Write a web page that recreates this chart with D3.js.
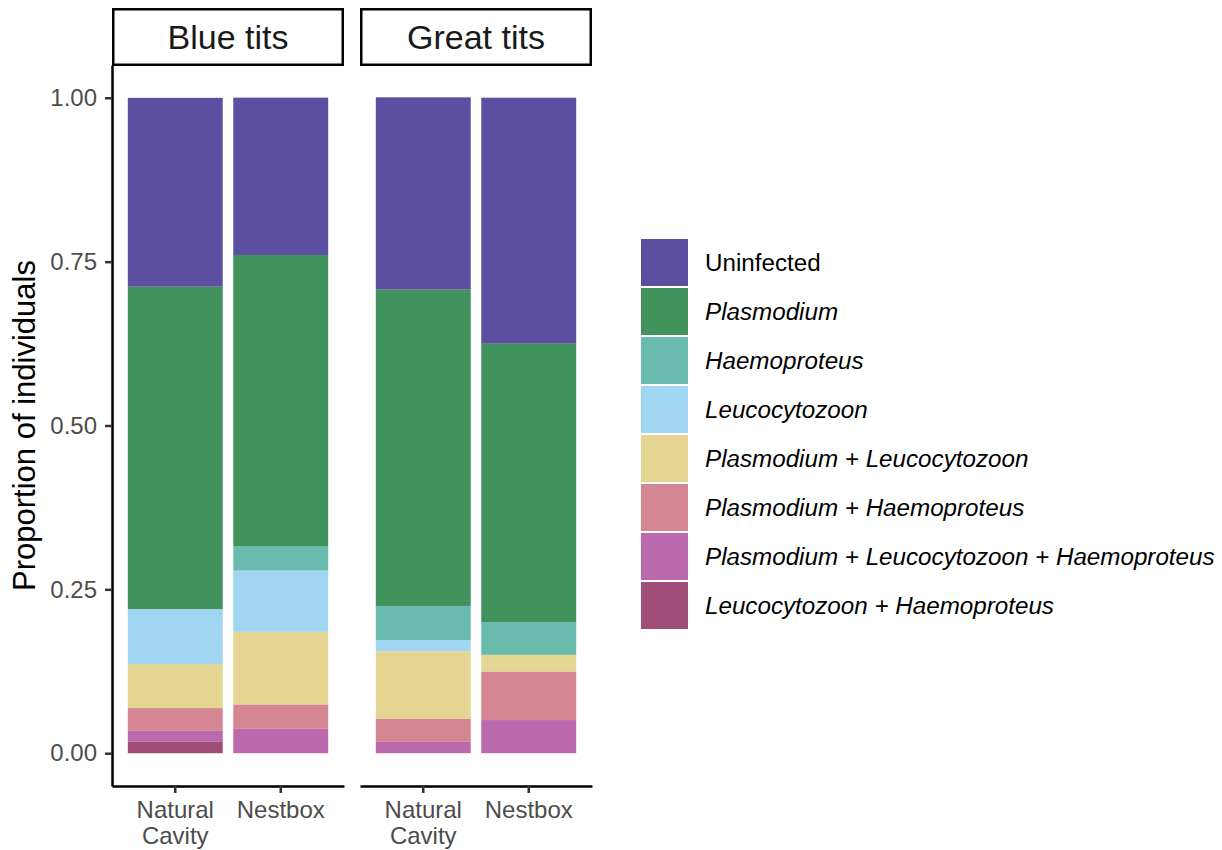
<!DOCTYPE html>
<html>
<head>
<meta charset="utf-8">
<script src="https://cdn.jsdelivr.net/npm/d3@7"></script>
<style>
  html, body { margin: 0; padding: 0; background: #fff; }
  svg { display: block; font-family: "Liberation Sans", Arial, Helvetica, sans-serif; }
</style>
</head>
<body>
<svg id="chart" width="1222" height="850"></svg>
<script>
// Facets, bar categories and infection classes
const species = ["Blue tits", "Great tits"];
const habitats = ["Natural Cavity", "Nestbox"];
const infections = [
  "Uninfected",
  "Plasmodium",
  "Haemoproteus",
  "Leucocytozoon",
  "Plasmodium + Leucocytozoon",
  "Plasmodium + Haemoproteus",
  "Plasmodium + Leucocytozoon + Haemoproteus",
  "Leucocytozoon + Haemoproteus"
];
const colours = ["#332288", "#117733", "#44AA99", "#88CCEE", "#DDCC77", "#CC6677", "#AA4499", "#882255"];

// Proportion of individuals per group, in the order:
// Blue tits / Natural Cavity, Blue tits / Nestbox, Great tits / Natural Cavity, Great tits / Nestbox
const uninfected      = [0.288, 0.240, 0.293, 0.375];
const plasmodium      = [0.492, 0.4445, 0.483, 0.425];
const haemoproteus    = [0.000, 0.037, 0.052, 0.050];
const leucocytozoon   = [0.084, 0.0934, 0.0172, 0.000];
const plasLeuco       = [0.067, 0.111, 0.103, 0.0255];
const plasHaemo       = [0.0346, 0.037, 0.035, 0.074];
const plasLeucoHaemo  = [0.0168, 0.0373, 0.0175, 0.0506];
const leucoHaemo      = [0.0175, 0.000, 0.000, 0.000];

const yTicks = [0, 0.25, 0.5, 0.75, 1];

const seriesValues = [uninfected, plasmodium, haemoproteus, leucocytozoon,
                      plasLeuco, plasHaemo, plasLeucoHaemo, leucoHaemo];

// Long table: one row per bar
const rows = [];
species.forEach((sp, si) => {
  habitats.forEach((hb, hi) => {
    const idx = si * habitats.length + hi;
    const row = { species: sp, habitat: hb };
    infections.forEach((inf, k) => { row[inf] = seriesValues[k][idx]; });
    rows.push(row);
  });
});

// Stack from the last class (bottom) to "Uninfected" (top)
const stackKeys = infections.slice().reverse();
const stacked = d3.stack().keys(stackKeys)(rows);

const colour = d3.scaleOrdinal().domain(infections).range(colours);

const svg = d3.select("#chart");
const fontAxis = 24;

// Panel geometry
const panelTop = 65, panelBottom = 786;
const panelW = 232, panelGap = 16, panelLeft = 112;
const stripTop = 8;

const y = d3.scaleLinear().domain([-0.05, 1.05]).range([panelBottom, panelTop]);

species.forEach((sp, si) => {
  const px = panelLeft + si * (panelW + panelGap);
  const g = svg.append("g").attr("transform", `translate(${px},0)`);

  const x = d3.scaleBand().domain(habitats).range([0, panelW])
    .paddingInner(0.1).paddingOuter(0.15);

  // Stacked bars
  stacked.forEach(layer => {
    g.selectAll(null)
      .data(layer.filter(d => d.data.species === sp))
      .join("rect")
      .attr("x", d => x(d.data.habitat))
      .attr("width", x.bandwidth())
      .attr("y", d => y(d[1]))
      .attr("height", d => Math.max(0, y(d[0]) - y(d[1])))
      .attr("fill", colour(layer.key))
      .attr("fill-opacity", 0.8);
  });

  // Strip
  g.append("rect")
    .attr("x", 1.25).attr("y", stripTop + 1.25)
    .attr("width", panelW - 2.5).attr("height", panelTop - stripTop - 1.5)
    .attr("fill", "#fff").attr("stroke", "#000").attr("stroke-width", 2.5);
  g.append("text")
    .attr("x", panelW / 2).attr("y", 48.5)
    .attr("text-anchor", "middle")
    .attr("font-size", 34).attr("fill", "#1a1a1a")
    .text(sp);

  // x axis
  const xAxis = g.append("g")
    .attr("transform", `translate(0,${panelBottom})`)
    .call(d3.axisBottom(x).tickSize(7).tickSizeOuter(0));
  xAxis.select(".domain").attr("stroke", "#000").attr("stroke-width", 2.5);
  xAxis.selectAll(".tick line").attr("stroke", "#333").attr("stroke-width", 2.5);
  xAxis.selectAll(".tick text").each(function(d) {
    const t = d3.select(this);
    t.text(null).attr("y", 0).attr("dy", null)
      .attr("font-size", fontAxis).attr("fill", "#4d4d4d")
      .attr("font-family", "'Liberation Sans', Arial, sans-serif");
    d.split(" ").forEach((w, i) => {
      t.append("tspan").attr("x", 0).attr("y", 32 + i * 25.5).text(w);
    });
  });

  // y axis only on the first panel
  if (si === 0) {
    const yAxis = g.append("g")
      .call(d3.axisLeft(y).tickValues(yTicks).tickFormat(d3.format(".2f"))
        .tickSize(7).tickPadding(8).tickSizeOuter(0));
    yAxis.select(".domain").attr("stroke", "#000").attr("stroke-width", 2.5);
    yAxis.selectAll(".tick line").attr("stroke", "#333").attr("stroke-width", 2.5);
    yAxis.selectAll(".tick text")
      .attr("font-size", fontAxis).attr("fill", "#4d4d4d")
      .attr("font-family", "'Liberation Sans', Arial, sans-serif");
  }
});

// y axis title
svg.append("text")
  .attr("transform", `translate(35,${(panelTop + panelBottom) / 2}) rotate(-90)`)
  .attr("text-anchor", "middle")
  .attr("font-size", 31).attr("fill", "#000")
  .text("Proportion of individuals");

// Legend
const legendX = 641, legendY = 239, keyW = 47, keyH = 47, keyStep = 49;
const legend = svg.append("g").attr("transform", `translate(${legendX},${legendY})`);
const items = legend.selectAll("g").data(infections).join("g")
  .attr("transform", (d, i) => `translate(0,${i * keyStep})`);
items.append("rect")
  .attr("width", keyW).attr("height", keyH)
  .attr("fill", d => colour(d)).attr("fill-opacity", 0.8);
items.append("text")
  .attr("x", 64).attr("y", keyH / 2 + 8.5)
  .attr("font-size", 24.2).attr("fill", "#000")
  .attr("font-style", d => d === "Uninfected" ? "normal" : "italic")
  .text(d => d);
</script>
</body>
</html>
